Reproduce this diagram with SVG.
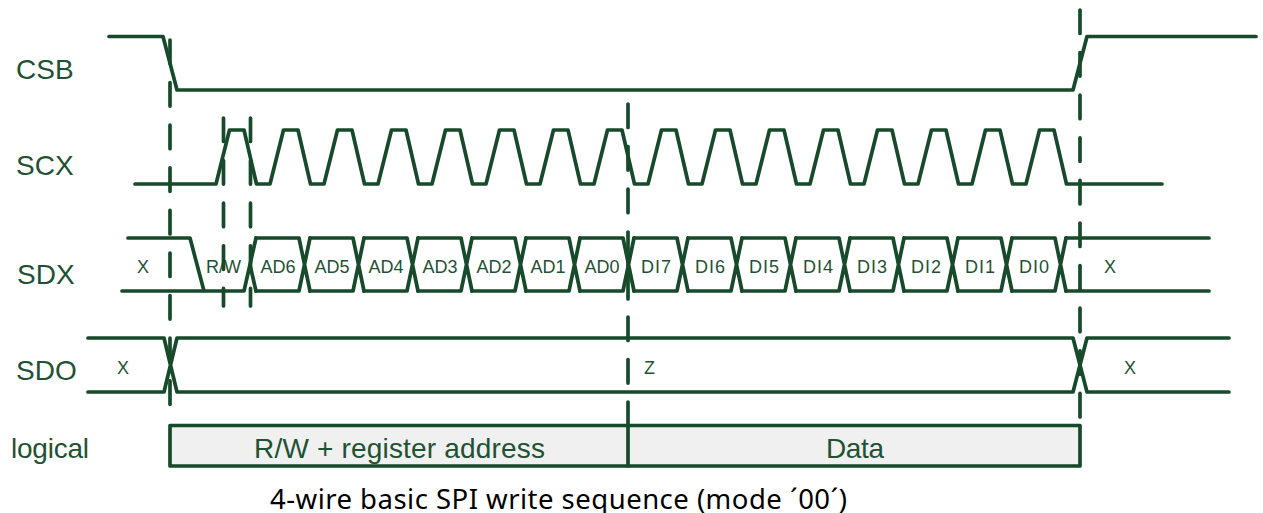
<svg xmlns="http://www.w3.org/2000/svg" xmlns:xlink="http://www.w3.org/1999/xlink" width="1263" height="513" viewBox="0 0 1263 513">
<style>
.w{fill:none;stroke:#174a2a;stroke-width:3.700;stroke-linecap:round;stroke-linejoin:round}
.d{fill:none;stroke:#174a2a;stroke-width:3.700;stroke-linecap:round;stroke-dasharray:23.500 19.100}
.l{font-family:"Liberation Sans",Arial,sans-serif;font-size:28px;fill:#1f5233}
.s{font-family:"Liberation Sans",Arial,sans-serif;font-size:18px;fill:#1f5233}
.c{font-family:"Noto Sans","DejaVu Sans",sans-serif;font-size:27.500px;fill:#000}
</style>
<defs>
<path id="cell" class="w" d="M0 238H43L54 291M0 291H43L54 238"/>
</defs>
<rect width="1263" height="513" fill="#fff"/>
<g id="logical">
<rect x="170" y="425.500" width="910" height="40.500" class="w" style="fill:#f0f0f0"/>
<text class="l" x="11" y="458" textLength="78" lengthAdjust="spacing">logical</text>
<text class="l" x="254" y="458" textLength="291" lengthAdjust="spacing">R/W + register address</text>
<text class="l" x="826" y="458" textLength="58" lengthAdjust="spacing">Data</text>
</g>
<g id="CSB">
<text class="l" x="16" y="79">CSB</text>
<path class="w" d="M109 36.500H163L177 90H1073L1087 36.500H1256"/>
</g>
<g id="SCX">
<text class="l" x="16" y="174.500">SCX</text>
<path class="w" d="M135 184H216L229.500 130H244L256.500 184H270L283.500 130H298L310.500 184H324L337.500 130H352L364.500 184H378L391.500 130H406L418.500 184H432L445.500 130H460L472.500 184H486L499.500 130H514L526.500 184H540L553.500 130H568L580.500 184H594L607.500 130H622L634.500 184H648L661.500 130H676L688.500 184H702L715.500 130H730L742.500 184H756L769.500 130H784L796.500 184H810L823.500 130H838L850.500 184H864L877.500 130H892L904.500 184H918L931.500 130H946L958.500 184H972L985.500 130H1000L1012.500 184H1026L1039.500 130H1054L1066.500 184H1162"/>
</g>
<g id="SDX">
<text class="l" x="17" y="284">SDX</text>
<path class="w" d="M128 238H190L204 291M122 291H244L256 238M256 291L250 265M1066 238H1209M1066 291H1209"/>
<use xlink:href="#cell" x="256"/><use xlink:href="#cell" x="310"/><use xlink:href="#cell" x="364"/><use xlink:href="#cell" x="418"/><use xlink:href="#cell" x="472"/><use xlink:href="#cell" x="526"/><use xlink:href="#cell" x="580"/><use xlink:href="#cell" x="634"/><use xlink:href="#cell" x="688"/><use xlink:href="#cell" x="742"/><use xlink:href="#cell" x="796"/><use xlink:href="#cell" x="850"/><use xlink:href="#cell" x="904"/><use xlink:href="#cell" x="958"/><use xlink:href="#cell" x="1012"/>
<text class="s" x="137" y="273">X</text>
<text class="s" x="206" y="273">R/W</text>
<text class="s" x="260.500" y="273">AD6</text>
<text class="s" x="314.500" y="273">AD5</text>
<text class="s" x="368.500" y="273">AD4</text>
<text class="s" x="422.500" y="273">AD3</text>
<text class="s" x="476.500" y="273">AD2</text>
<text class="s" x="530.500" y="273">AD1</text>
<text class="s" x="584.500" y="273">AD0</text>
<text class="s" x="641" y="273" dx="0 1 1">DI7</text>
<text class="s" x="695" y="273" dx="0 1 1">DI6</text>
<text class="s" x="749" y="273" dx="0 1 1">DI5</text>
<text class="s" x="803" y="273" dx="0 1 1">DI4</text>
<text class="s" x="857" y="273" dx="0 1 1">DI3</text>
<text class="s" x="911" y="273" dx="0 1 1">DI2</text>
<text class="s" x="965" y="273" dx="0 1 1">DI1</text>
<text class="s" x="1019" y="273" dx="0 1 1">DI0</text>
<text class="s" x="1104" y="273">X</text>
</g>
<g id="SDO">
<text class="l" x="16" y="380">SDO</text>
<path class="w" d="M88 338H164L177 392H1073L1087 338H1229M88 392H164L177 338H1073L1087 392H1229"/>
<text class="s" x="117" y="374">X</text>
<text class="s" x="644" y="374">Z</text>
<text class="s" x="1124" y="374">X</text>
</g>
<g id="connectors">
<path class="d" d="M170 40V407"/>
<path class="d" d="M223.500 118V306"/>
<path class="d" d="M250.500 118V306"/>
<path class="d" d="M628 104V215"/>
<path class="w" d="M628 232V299"/>
<path class="d" d="M628 317V386"/>
<path class="w" d="M628 402V466"/>
<path class="d" d="M1080 10V419"/>
</g>
<text class="c" x="270" y="509" textLength="577" lengthAdjust="spacing">4-wire basic SPI write sequence (mode ´00´)</text>
</svg>
